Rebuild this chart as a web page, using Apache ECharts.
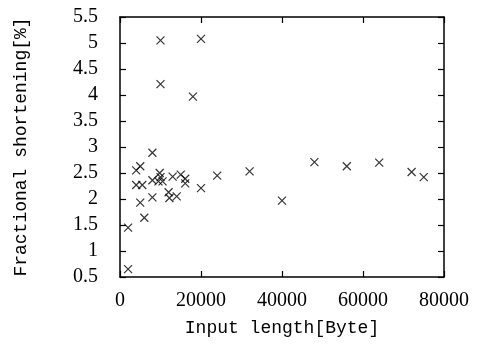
<!DOCTYPE html>
<html>
<head>
<meta charset="utf-8">
<script src="https://cdn.jsdelivr.net/npm/echarts@6/dist/echarts.min.js"></script>
<style>html,body{margin:0;padding:0;background:#fff}#c{width:482px;height:354px}</style>
</head>
<body>
<div id="c"></div>
<script>
const inputLength = [2000, 2000, 4000, 4000, 5000, 5000, 5500, 6000, 8000, 8000, 8000, 9500, 9800, 10000, 10500, 10000, 10000, 12000, 12200, 13000, 14000, 15000, 16100, 16100, 18000, 20000, 20000, 24000, 32000, 40000, 48000, 56000, 64000, 72000, 75000];
const shortening = [0.65, 1.45, 2.27, 2.55, 2.63, 1.93, 2.27, 1.64, 2.89, 2.36, 2.03, 2.34, 2.5, 2.42, 2.34, 5.05, 4.21, 2.13, 2.02, 2.43, 2.05, 2.47, 2.39, 2.3, 3.97, 5.08, 2.21, 2.45, 2.53, 1.97, 2.71, 2.63, 2.7, 2.52, 2.42];
const xTicks = [0, 20000, 40000, 60000, 80000];
const yTicks = [0.5, 1, 1.5, 2, 2.5, 3, 3.5, 4, 4.5, 5, 5.5];

const data = inputLength.map((x, i) => [x, shortening[i]]);
const chart = echarts.init(document.getElementById('c'));
const tickFont = {fontFamily: 'Liberation Serif', fontSize: 20, color: '#000'};
const titleFont = {fontFamily: 'Liberation Mono', fontSize: 18, color: '#000'};
const lineStyle = {color: '#000', width: 1.5};
const baseX = {type: 'value', min: xTicks[0], max: xTicks[xTicks.length - 1], interval: 20000,
  axisLine: {show: true, onZero: false, lineStyle}, axisTick: {show: true, inside: true, length: 6, lineStyle: {color: '#000', width: 1.2}},
  splitLine: {show: false}};
const baseY = {type: 'value', min: yTicks[0], max: yTicks[yTicks.length - 1], interval: 0.5,
  axisLine: {show: true, onZero: false, lineStyle}, axisTick: {show: true, inside: true, length: 6, lineStyle: {color: '#000', width: 1.2}},
  splitLine: {show: false}};
chart.setOption({
  animation: false,
  grid: {left: 120, right: 38, top: 17, bottom: 77},
  xAxis: [
    Object.assign({}, baseX, {position: 'bottom', name: 'Input length[Byte]', nameLocation: 'middle', nameGap: 42, nameTextStyle: titleFont,
      axisLabel: Object.assign({margin: 14, formatter: v => String(v)}, tickFont)}),
    Object.assign({}, baseX, {position: 'top', axisLabel: {show: false}})
  ],
  yAxis: [
    Object.assign({}, baseY, {position: 'left', name: 'Fractional shortening[%]', nameLocation: 'middle', nameGap: 90, nameTextStyle: titleFont,
      axisLabel: Object.assign({margin: 22, formatter: v => String(v)}, tickFont)}),
    Object.assign({}, baseY, {position: 'right', axisLabel: {show: false}})
  ],
  series: [{
    type: 'scatter', data: data,
    symbol: 'path://M0,0L10,10M10,0L0,10', symbolSize: 8,
    itemStyle: {color: 'rgba(0,0,0,0)', borderColor: '#000', borderWidth: 1.2}
  }]
});
</script>
</body>
</html>
